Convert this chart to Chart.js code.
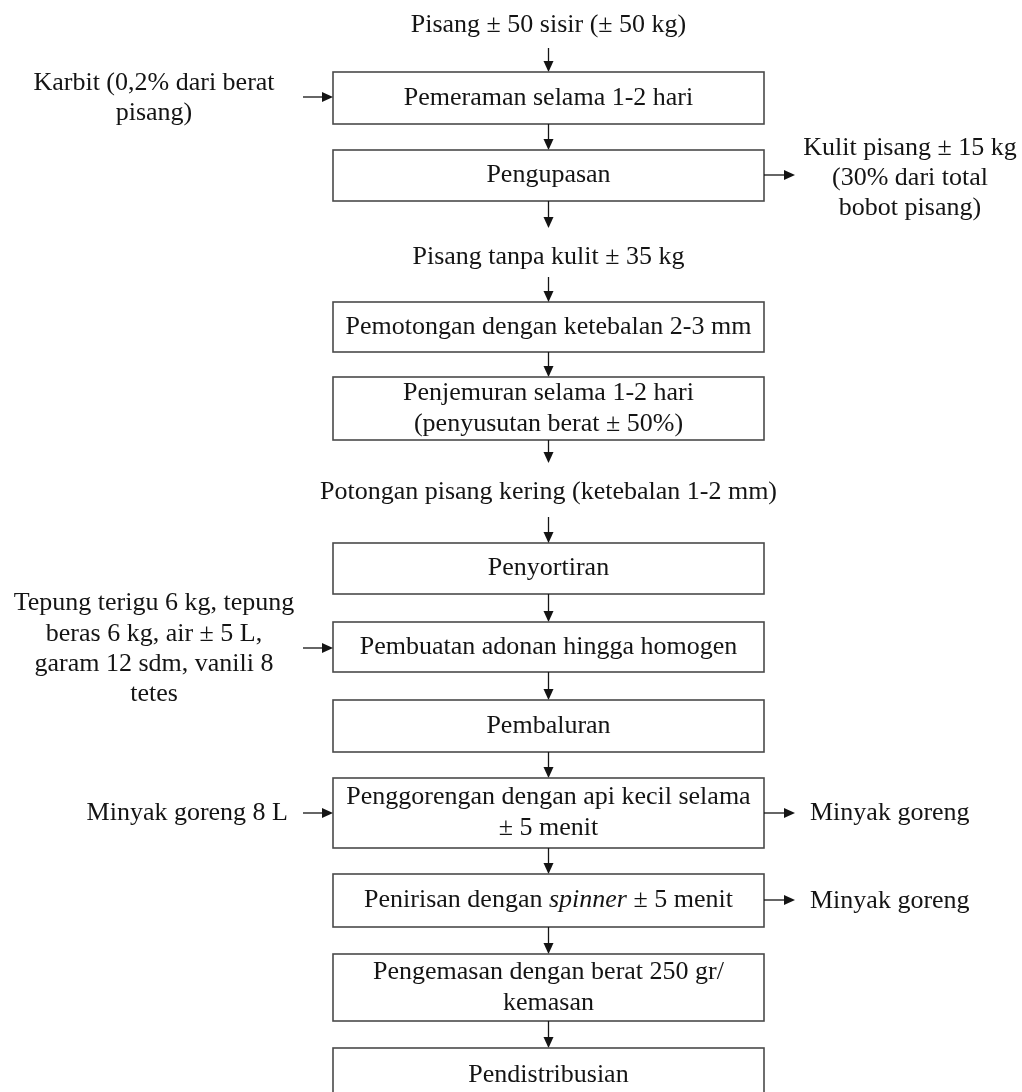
<!DOCTYPE html>
<html>
<head>
<meta charset="utf-8">
<script src="https://cdn.jsdelivr.net/npm/chart.js@4.4.1/dist/chart.umd.min.js"></script>
<style>
  body { margin: 0; background: #fff; }
  #wrap { width: 1022px; height: 1092px; }
</style>
</head>
<body>
<div id="wrap"><canvas id="flow" width="1022" height="1092"></canvas></div>
<script>
// flowchart texts
const sourceLabel = ['Pisang ± 50 sisir (± 50 kg)'];
const stepLabels = [
    ['Pemeraman selama 1-2 hari'],
    ['Pengupasan'],
    ['Pemotongan dengan ketebalan 2-3 mm'],
    ['Penjemuran selama 1-2 hari', '(penyusutan berat ± 50%)'],
    ['Penyortiran'],
    ['Pembuatan adonan hingga homogen'],
    ['Pembaluran'],
    ['Penggorengan dengan api kecil selama', '± 5 menit'],
    ['Penirisan dengan _spinner_ ± 5 menit'],
    ['Pengemasan dengan berat 250 gr/', 'kemasan'],
    ['Pendistribusian']
];
// intermediate products shown between boxes (index = box it follows)
const midStep = [1, 3];
const midLabels = ['Pisang tanpa kulit ± 35 kg', 'Potongan pisang kering (ketebalan 1-2 mm)'];
// inputs coming in from the left
const inStep = [0, 5, 7];
const inLabels = [
    ['Karbit (0,2% dari berat', 'pisang)'],
    ['Tepung terigu 6 kg, tepung', 'beras 6 kg, air ± 5 L,', 'garam 12 sdm, vanili 8', 'tetes'],
    ['Minyak goreng 8 L']
];
// outputs going out to the right
const outStep = [1, 7, 8];
const outLabels = [
    ['Kulit pisang ± 15 kg', '(30% dari total', 'bobot pisang)'],
    ['Minyak goreng'],
    ['Minyak goreng']
];

// layout (in page units, mapped through the chart scales)
const boxLeft = 333, boxRight = 764, midX = 548.5;
const stepTop    = [72, 150, 302, 377, 543, 622, 700, 778, 874, 954, 1048];
const stepBottom = [124, 201, 352, 440, 594, 672, 752, 848, 927, 1021, 1120];
const sourceY = 25, sourceArrow = [48, 72];
const midY = [257, 492];
const midArrowIn = [[201, 228], [440, 463]];
const midArrowOut = [[277, 302], [517, 543]];
const inY = [[83, 113], [603, 634, 664, 694], [813]];
const inX = [154, 154, 288];
const inAlign = ['center', 'center', 'right'];
const inArrowY = [97, 648, 813];
const outY = [[148, 178, 208], [813], [901]];
const outX = [910, 810, 810];
const outAlign = ['center', 'left', 'left'];
const outArrowY = [175, 813, 900];

const FONT = '"Liberation Serif", "Times New Roman", serif';
const FSIZE = 26;
const LINE = 31;
const INK = '#141414';

function drawRich(ctx, text, x, y, align) {
    // split on _..._ for italic parts
    const parts = text.split('_');
    let total = 0;
    const widths = parts.map((p, i) => {
        ctx.font = (i % 2 ? 'italic ' : '') + FSIZE + 'px ' + FONT;
        const w = ctx.measureText(p).width;
        total += w;
        return w;
    });
    let cx = x;
    if (align === 'center') cx = x - total / 2;
    if (align === 'right') cx = x - total;
    ctx.textAlign = 'left';
    parts.forEach((p, i) => {
        ctx.font = (i % 2 ? 'italic ' : '') + FSIZE + 'px ' + FONT;
        ctx.fillText(p, cx, y);
        cx += widths[i];
    });
}

function arrow(ctx, x1, y1, x2, y2) {
    const ang = Math.atan2(y2 - y1, x2 - x1);
    const head = 11, half = 5;
    ctx.beginPath();
    ctx.moveTo(x1, y1);
    ctx.lineTo(x2 - head * Math.cos(ang), y2 - head * Math.sin(ang));
    ctx.stroke();
    ctx.beginPath();
    ctx.moveTo(x2, y2);
    ctx.lineTo(x2 - head * Math.cos(ang) - half * Math.sin(ang), y2 - head * Math.sin(ang) + half * Math.cos(ang));
    ctx.lineTo(x2 - head * Math.cos(ang) + half * Math.sin(ang), y2 - head * Math.sin(ang) - half * Math.cos(ang));
    ctx.closePath();
    ctx.fill();
}

const flowPlugin = {
    id: 'flow',
    afterDatasetsDraw(chart) {
        const ctx = chart.ctx;
        const sx = chart.scales.x, sy = chart.scales.y;
        const X = v => sx.getPixelForValue(v);
        const Y = v => sy.getPixelForValue(v);
        ctx.save();
        ctx.fillStyle = INK;
        ctx.strokeStyle = INK;
        ctx.textBaseline = 'middle';
        ctx.lineWidth = 1.3;

        // top source
        drawRich(ctx, sourceLabel[0], X(midX), Y(sourceY), 'center');
        arrow(ctx, X(midX), Y(sourceArrow[0]), X(midX), Y(sourceArrow[1]));

        // boxes
        stepLabels.forEach((lines, i) => {
            ctx.strokeStyle = '#4a4a4a';
            ctx.lineWidth = 1.6;
            ctx.strokeRect(X(boxLeft), Y(stepTop[i]), X(boxRight) - X(boxLeft), Y(stepBottom[i]) - Y(stepTop[i]));
            ctx.strokeStyle = INK;
            ctx.lineWidth = 1.3;
            const mid = (stepTop[i] + stepBottom[i]) / 2;
            const c = i === stepLabels.length - 1 ? 1075 : mid;
            lines.forEach((t, k) => {
                const yy = c + (k - (lines.length - 1) / 2) * LINE;
                drawRich(ctx, t, X(midX), Y(yy), 'center');
            });
            // arrow to next box
            if (i < stepLabels.length - 1 && midStep.indexOf(i) < 0) {
                arrow(ctx, X(midX), Y(stepBottom[i]), X(midX), Y(stepTop[i + 1]));
            }
        });

        // intermediate products
        midStep.forEach((s, j) => {
            arrow(ctx, X(midX), Y(midArrowIn[j][0]), X(midX), Y(midArrowIn[j][1]));
            drawRich(ctx, midLabels[j], X(midX), Y(midY[j]), 'center');
            arrow(ctx, X(midX), Y(midArrowOut[j][0]), X(midX), Y(midArrowOut[j][1]));
        });

        // left inputs
        inStep.forEach((s, j) => {
            inLabels[j].forEach((t, k) => drawRich(ctx, t, X(inX[j]), Y(inY[j][k]), inAlign[j]));
            arrow(ctx, X(303), Y(inArrowY[j]), X(boxLeft), Y(inArrowY[j]));
        });

        // right outputs
        outStep.forEach((s, j) => {
            outLabels[j].forEach((t, k) => drawRich(ctx, t, X(outX[j]), Y(outY[j][k]), outAlign[j]));
            arrow(ctx, X(boxRight), Y(outArrowY[j]), X(795), Y(outArrowY[j]));
        });
        ctx.restore();
    }
};

new Chart(document.getElementById('flow'), {
    type: 'scatter',
    data: {
        datasets: [{
            data: stepLabels.map((l, i) => ({ x: midX, y: (stepTop[i] + stepBottom[i]) / 2 })),
            pointRadius: 0
        }]
    },
    options: {
        responsive: false,
        animation: false,
        layout: { padding: 0 },
        scales: {
            x: { type: 'linear', min: 0, max: 1022, display: false },
            y: { type: 'linear', min: 0, max: 1092, reverse: true, display: false }
        },
        plugins: { legend: { display: false }, tooltip: { enabled: false } }
    },
    plugins: [flowPlugin]
});
</script>
</body>
</html>
